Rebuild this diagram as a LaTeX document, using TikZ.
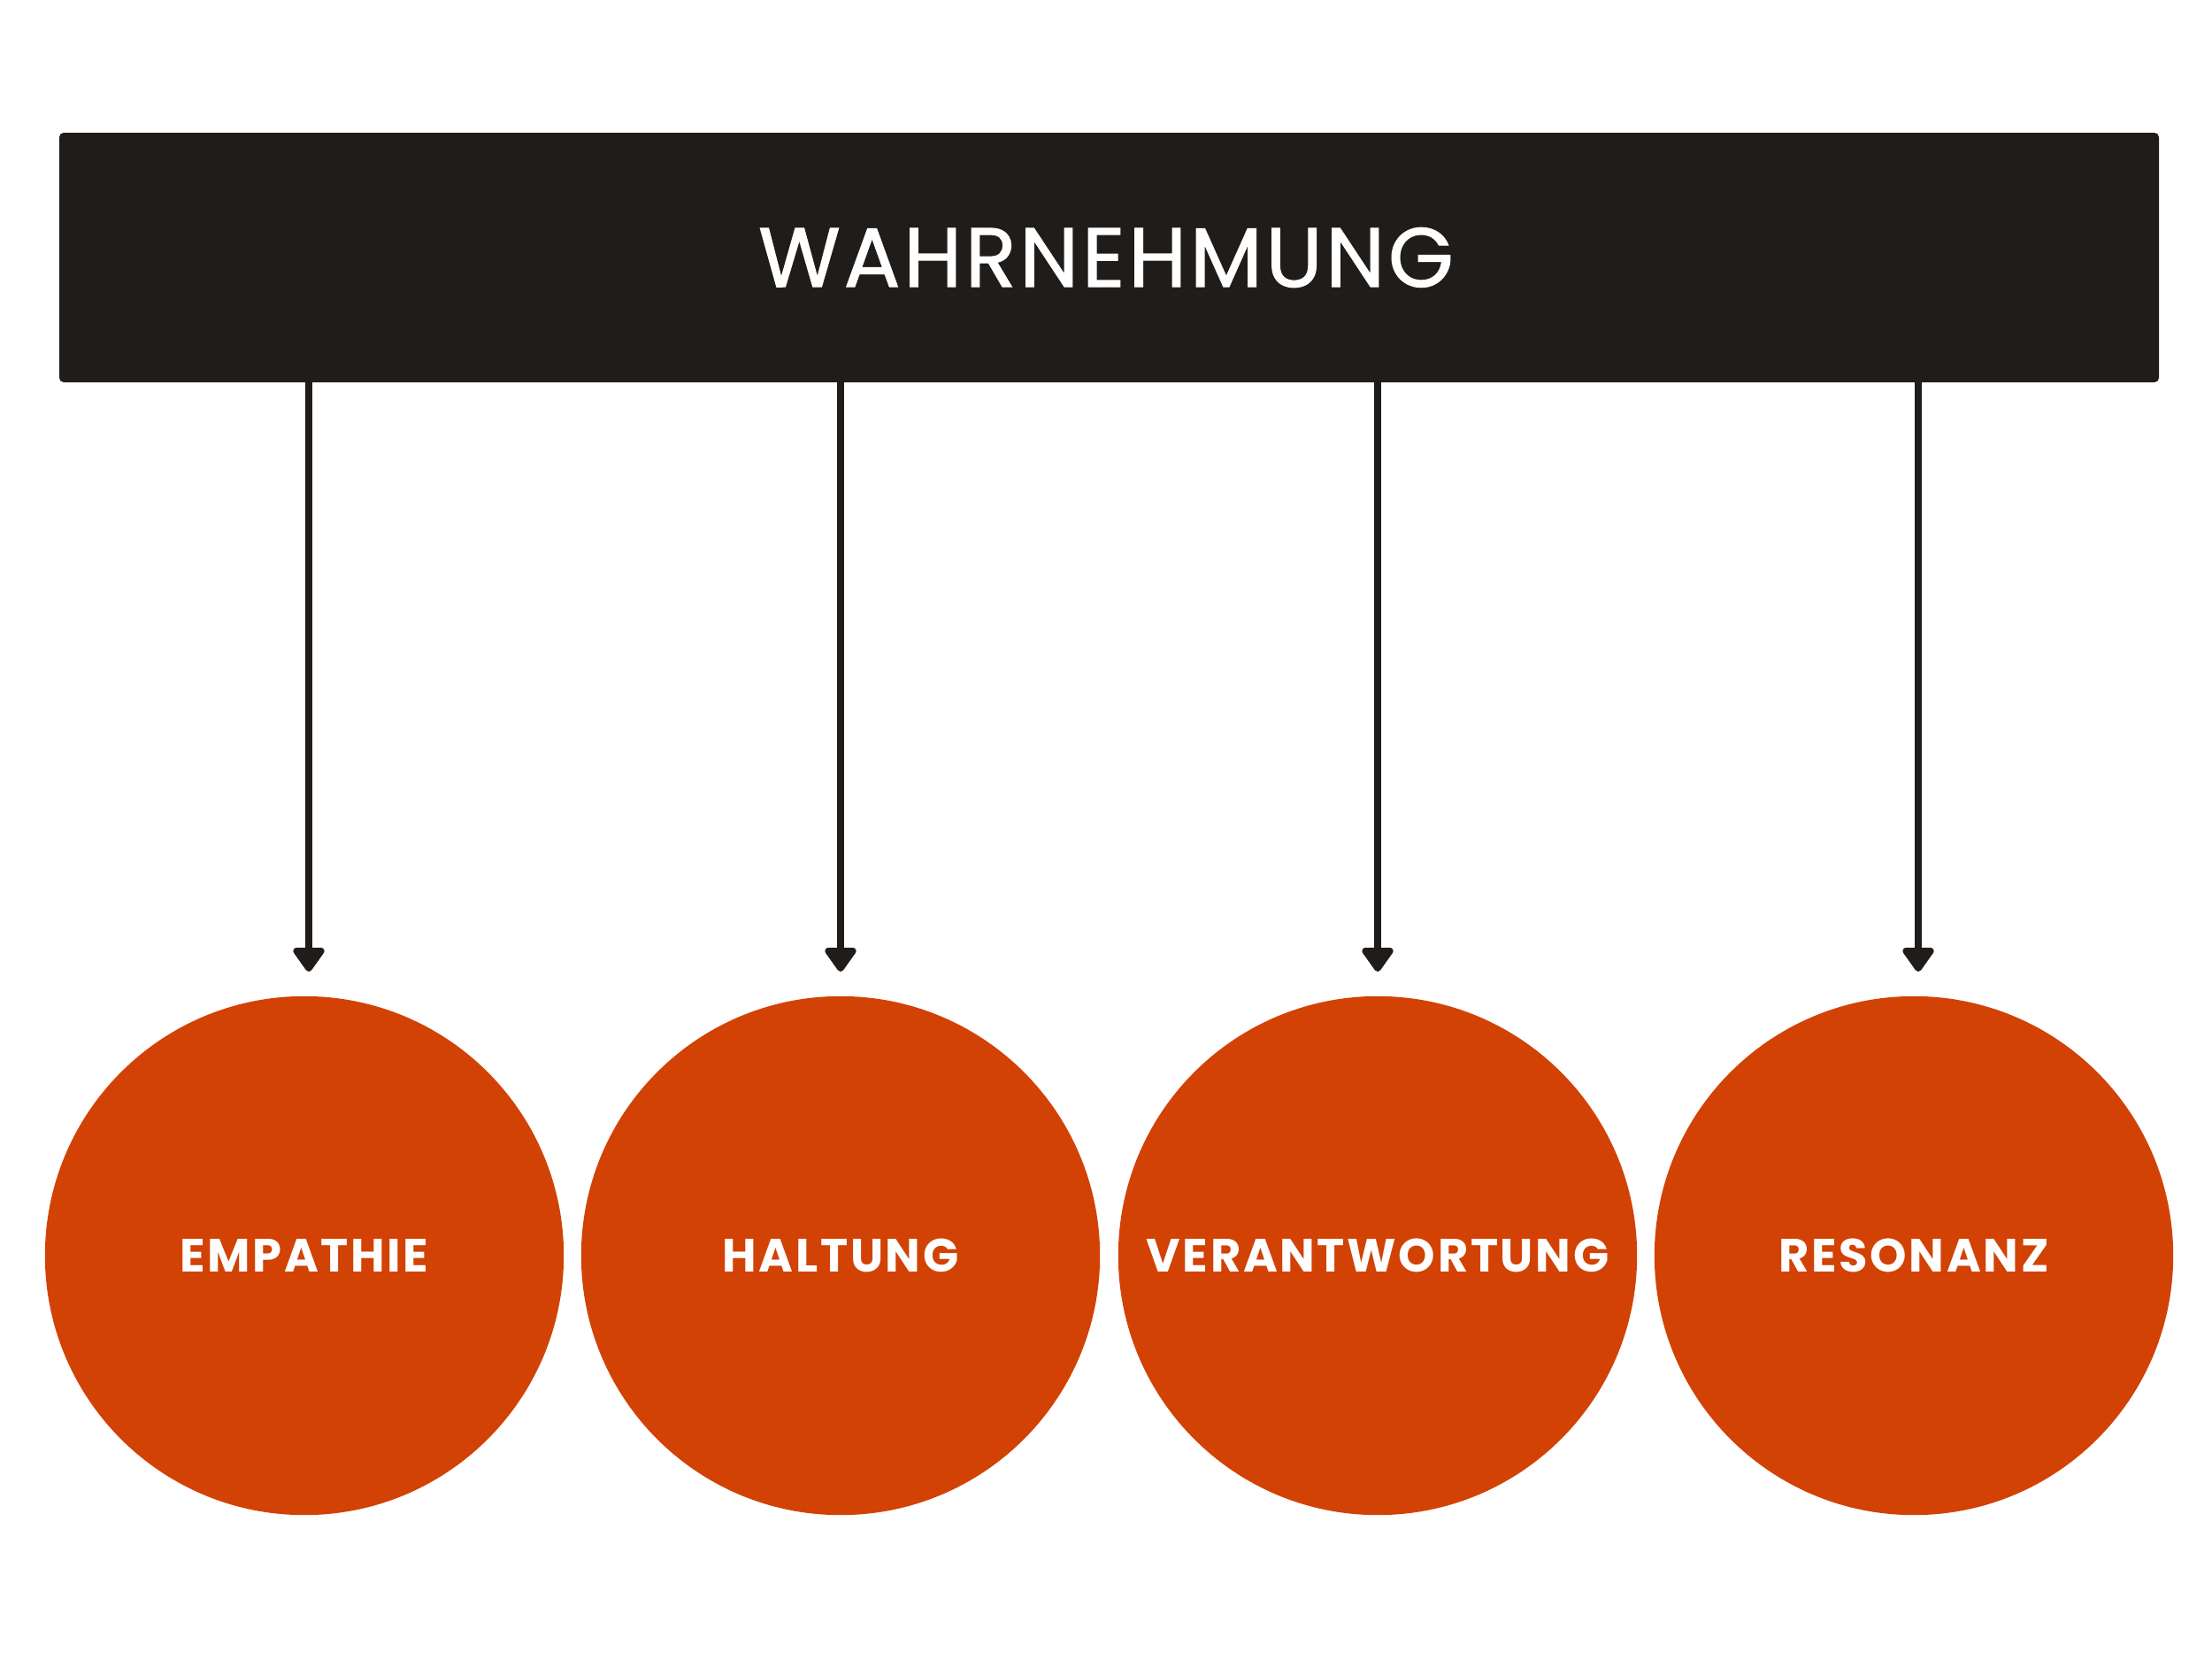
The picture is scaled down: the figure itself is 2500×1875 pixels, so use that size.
\documentclass[tikz,border=0pt]{standalone}
\usepackage{fontspec}
\setmainfont{Poppins}
\usetikzlibrary{arrows.meta}
\definecolor{barc}{HTML}{201C19}
\definecolor{circc}{HTML}{D24205}
\begin{document}
\begin{tikzpicture}[x=0.01cm,y=-0.01cm,
  bar/.style={fill=barc,rounded corners=0.05cm,draw=none},
  circ/.style={circle,fill=circc,minimum size=5.86cm,inner sep=0pt},
  lab/.style={text=white,inner sep=0pt,font=\fontsize{15}{18}\selectfont\bfseries\addfontfeature{LetterSpace=5}},
  conn/.style={draw=barc,line width=2.3pt,-{Triangle[length=0.3cm,width=0.4cm,round]}}]
\useasboundingbox (0,0) rectangle (2500,1875);
\fill[bar] (67,150) rectangle (2440,432);
\node[text=white,font=\fontsize{27}{32}\selectfont\addfontfeature{LetterSpace=4,FakeBold=1.2}] (top) at (1250,291) {WAHRNEHMUNG};
\foreach \x/\n/\t in {344/1/EMPATHIE,950/2/HALTUNG,1557/3/VERANTWORTUNG,2163/4/RESONANZ}{
  \node[circ] (c\n) at (\x,1419) {};
  \node[lab] (l\n) at (c\n) {\t};
}
\foreach \x/\n in {349/a,950/b,1557/c,2168/d}{
  \coordinate (s\n) at (\x,432);
  \coordinate (e\n) at (\x,1098);
  \draw[conn] (s\n) -- (e\n);
}
\end{tikzpicture}
\end{document}
